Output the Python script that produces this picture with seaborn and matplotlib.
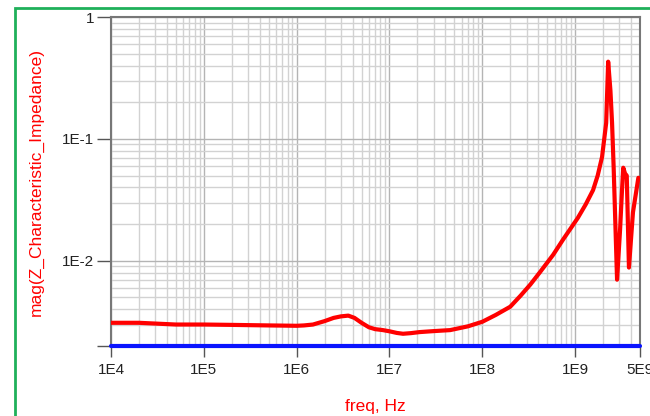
import numpy as np
import pandas as pd
import matplotlib
matplotlib.use("Agg")
import matplotlib.pyplot as plt
import matplotlib.patches as mpatches
import matplotlib.ticker as mticker
import seaborn as sns

# values
freq_hz = [1e4, 2e4, 5e4, 1e5, 2e5, 5e5, 1e6, 1.2e6, 1.5e6, 2e6, 2.5e6, 3e6,
           3.6e6, 4.2e6, 5e6, 6e6, 7e6, 8.5e6, 1e7, 1.2e7, 1.4e7, 1.7e7, 2.1e7,
           3e7, 4.5e7, 7e7, 1e8, 1.4e8, 2e8, 2.6e8, 3.3e8, 4.2e8, 5.8e8, 7.4e8,
           1.07e9, 1.3e9, 1.56e9, 1.75e9, 1.95e9, 2.16e9, 2.27e9, 2.4e9, 2.5e9,
           2.6e9, 2.83e9, 3.05e9, 3.2e9, 3.3e9, 3.45e9, 3.6e9, 3.8e9, 4.2e9,
           4.8e9, 5e9]
mag_z = [0.0031, 0.0031, 0.0030, 0.0030, 0.00298, 0.00295, 0.00293, 0.00295,
         0.0030, 0.0032, 0.0034, 0.0035, 0.00355, 0.0034, 0.0031, 0.00285,
         0.00275, 0.0027, 0.00264, 0.00256, 0.00252, 0.00255, 0.0026, 0.00265,
         0.0027, 0.0029, 0.00316, 0.0036, 0.0042, 0.0052, 0.0064, 0.0081,
         0.0112, 0.0149, 0.0225, 0.029, 0.038, 0.050, 0.071, 0.135, 0.43, 0.25,
         0.135, 0.059, 0.0070, 0.018, 0.038, 0.058, 0.052, 0.050, 0.0088,
         0.025, 0.048, 0.047]
zero_mag = [0.0] * len(freq_hz)

x_ticks = [1e4, 1e5, 1e6, 1e7, 1e8, 1e9, 5e9]
x_tick_labels = ["1E4", "1E5", "1E6", "1E7", "1E8", "1E9", "5E9"]
y_ticks = [0.002, 0.01, 0.1, 1]
y_tick_labels = ["", "1E-2", "1E-1", "1"]

Y_MIN, Y_MAX = 0.002, 1.0

df = pd.DataFrame({"freq": freq_hz, "mag": mag_z})
df_zero = pd.DataFrame({"freq": freq_hz, "mag": np.clip(zero_mag, Y_MIN, None)})

sns.set_style("white")
plt.rcParams["font.family"] = ["Liberation Sans", "DejaVu Sans"]

fig = plt.figure(figsize=(6.5, 4.16), dpi=100)
fig.patch.set_facecolor("white")
ax = fig.add_axes([111 / 650, 1 - 346 / 416, 529 / 650, 329 / 416])

# green frame around the plot
frame = mpatches.Rectangle((15 / 650, -0.2), 1.2, 1.2 - 8 / 416, transform=fig.transFigure,
                           fill=False, edgecolor="#1fb05a", linewidth=2, clip_on=False)
fig.patches.append(frame)

ax.set_xscale("log")
ax.set_yscale("log")

sns.lineplot(data=df_zero, x="freq", y="mag", color="#0a14ff", linewidth=3,
             ax=ax, clip_on=False, zorder=5)
sns.lineplot(data=df, x="freq", y="mag", color="#ff0000", linewidth=3, ax=ax, zorder=4)

ax.set_xlim(1e4, 5e9)
ax.set_ylim(Y_MIN, Y_MAX)

ax.xaxis.set_major_locator(mticker.FixedLocator(x_ticks))
ax.xaxis.set_major_formatter(mticker.FixedFormatter(x_tick_labels))
ax.yaxis.set_major_locator(mticker.FixedLocator(y_ticks))
ax.yaxis.set_major_formatter(mticker.FixedFormatter(y_tick_labels))
ax.xaxis.set_minor_locator(mticker.LogLocator(base=10, subs=np.arange(2, 10), numticks=20))
ax.yaxis.set_minor_locator(mticker.LogLocator(base=10, subs=np.arange(2, 10), numticks=20))
ax.xaxis.set_minor_formatter(mticker.NullFormatter())
ax.yaxis.set_minor_formatter(mticker.NullFormatter())

ax.grid(True, which="major", color="#b4b4b4", linewidth=1.0)
ax.grid(True, which="minor", color="#d2d2d2", linewidth=1.0)
ax.set_axisbelow(True)

ax.tick_params(axis="x", which="major", length=8, width=1, color="#555555",
               labelsize=11, labelcolor="#222222", pad=4, direction="out", bottom=True)
ax.tick_params(axis="y", which="major", length=10, width=1, color="#555555",
               labelsize=11, labelcolor="#222222", pad=2, direction="out", left=True)
ax.tick_params(which="minor", length=0)

for side in ["left", "right", "top"]:
    ax.spines[side].set_color("#777777")
    ax.spines[side].set_linewidth(1.5)
ax.spines["bottom"].set_visible(False)

ax.set_xlabel("freq, Hz", fontsize=12.5, color="#ff0000", labelpad=16)
ax.set_ylabel("mag(Z_Characteristic_Impedance)", fontsize=12.5, color="#ff0000", labelpad=13)
if ax.get_legend():
    ax.get_legend().remove()

fig.savefig("out.png", dpi=100, facecolor="white")
